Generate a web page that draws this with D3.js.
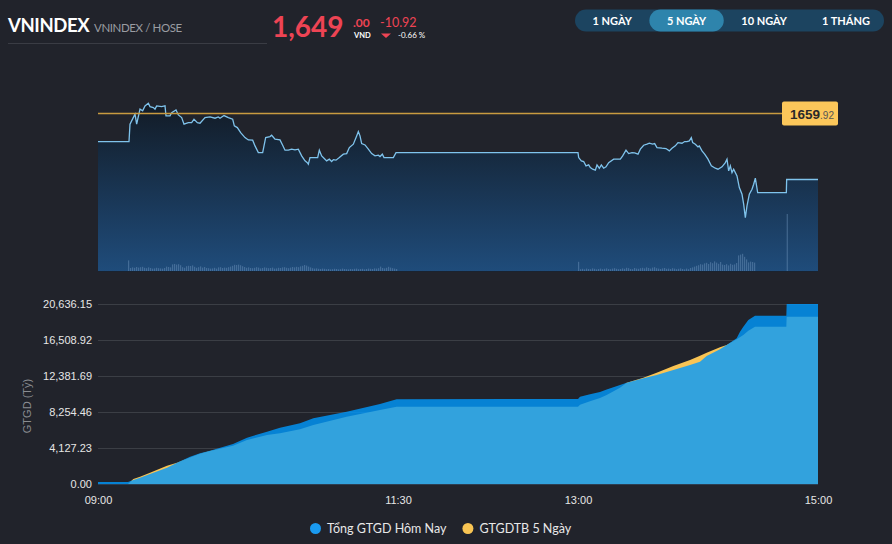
<!DOCTYPE html>
<html>
<head>
<meta charset="utf-8">
<script src="https://cdn.jsdelivr.net/npm/d3@7"></script>
<style>
  body { margin: 0; background: #21232b; overflow: hidden; }
  svg { display: block; }
</style>
</head>
<body>
<script>
// header values
var symbol = "VNINDEX";
var exchange = "VNINDEX / HOSE";
var lastPrice = "1,649";
var lastDecimals = ".00";
var change = "-10.92";
var changePct = "-0.66 %";
var periods = ["1 NGÀY", "5 NGÀY", "10 NGÀY", "1 THÁNG"];
var activePeriod = "5 NGÀY";

// intraday index (time, points)
var refPrice = 1659.92;
var priceData = [
  ["09:00:00",1655.22],["09:15:30",1655.22],["09:16:00",1658.07],["09:18:30",1659.71],["09:19:20",1658.07],
  ["09:21:00",1660.53],["09:22:20",1660.25],["09:23:30",1661.07],["09:25:10",1661.51],["09:26:00",1660.95],
  ["09:27:40",1660.79],["09:28:30",1660.53],["09:29:20",1661.07],["09:31:50",1660.95],["09:33:30",1661.07],
  ["09:34:00",1659.43],["09:36:00",1659.43],["09:36:50",1659.97],["09:39:00",1660.41],["09:40:10",1659.59],
  ["09:41:50",1659.15],["09:43:00",1658.07],["09:45:10",1658.33],["09:46:50",1658.33],["09:48:00",1658.89],
  ["09:49:40",1658.33],["09:51:00",1658.23],["09:53:30",1659.15],["09:56:00",1659.26],["09:58:30",1659.05],
  ["10:00:10",1659.26],["10:01:00",1659.05],["10:03:00",1659.48],["10:05:10",1659.15],["10:07:20",1658.89],
  ["10:08:10",1657.79],["10:09:40",1657.51],["10:11:20",1656.69],["10:13:30",1655.87],["10:15:10",1655.49],
  ["10:17:20",1655.44],["10:18:30",1654.51],["10:20:10",1653.41],["10:22:20",1653.41],["10:23:50",1655.87],
  ["10:26:00",1656.03],["10:26:50",1656.26],["10:28:30",1655.61],["10:31:00",1655.49],["10:32:20",1654.62],
  ["10:33:30",1653.81],["10:35:10",1653.81],["10:36:50",1653.97],["10:38:30",1653.85],["10:40:10",1653.97],
  ["10:41:50",1652.87],["10:43:30",1652.05],["10:44:40",1651.77],["10:45:10",1651.51],["10:46:00",1652.59],
  ["10:49:50",1652.59],["10:50:40",1653.81],["10:51:50",1652.87],["10:53:30",1652.33],["10:54:20",1652.05],
  ["10:55:40",1652.33],["10:56:50",1651.94],["10:57:40",1652.26],["10:59:00",1652.17],["11:00:40",1652.59],
  ["11:02:40",1653.15],["11:04:20",1653.25],["11:05:40",1654.23],["11:07:40",1654.79],["11:09:20",1656.15],
  ["11:10:10",1656.85],["11:11:00",1656.15],["11:11:50",1654.89],["11:13:30",1654.67],["11:15:10",1653.97],
  ["11:16:50",1653.25],["11:18:30",1652.87],["11:20:10",1652.99],["11:21:00",1652.76],["11:22:10",1653.15],
  ["11:23:00",1652.59],["11:27:40",1652.59],["11:29:00",1653.41],["11:30:00",1653.41],["13:00:00",1653.41],
  ["13:00:20",1652.59],["13:01:40",1652.05],["13:02:50",1651.94],["13:04:00",1651.23],["13:05:20",1651.40],
  ["13:06:10",1650.95],["13:07:20",1650.69],["13:08:40",1650.53],["13:09:30",1651.40],["13:10:40",1650.85],
  ["13:11:40",1651.40],["13:12:50",1650.85],["13:14:00",1651.07],["13:15:20",1651.77],["13:17:50",1652.33],
  ["13:21:10",1652.33],["13:22:20",1652.87],["13:24:00",1653.81],["13:25:20",1653.25],["13:27:00",1653.41],
  ["13:28:20",1653.36],["13:30:00",1653.15],["13:31:10",1653.97],["13:32:50",1654.62],["13:34:30",1654.79],
  ["13:35:40",1654.95],["13:37:20",1654.79],["13:38:20",1654.89],["13:39:30",1654.23],["13:42:00",1654.13],
  ["13:44:00",1654.07],["13:45:40",1653.69],["13:47:00",1654.13],["13:48:40",1654.51],["13:50:00",1655.05],
  ["13:52:00",1654.95],["13:53:20",1655.22],["13:54:30",1655.22],["13:55:40",1655.33],["13:56:40",1655.87],
  ["13:57:20",1655.05],["13:58:40",1654.79],["14:00:00",1654.35],["14:00:40",1654.51],["14:02:00",1653.69],
  ["14:03:20",1653.15],["14:05:00",1652.33],["14:06:40",1651.23],["14:08:40",1650.85],["14:10:00",1650.69],
  ["14:12:00",1651.07],["14:13:40",1651.77],["14:14:30",1652.33],["14:15:20",1650.41],["14:16:10",1651.23],
  ["14:17:00",1650.13],["14:17:50",1650.69],["14:19:30",1649.59],["14:20:40",1647.67],["14:22:00",1646.59],
  ["14:22:50",1644.95],["14:23:40",1642.76],["14:24:30",1644.67],["14:25:40",1646.59],["14:27:00",1647.41],
  ["14:27:50",1648.23],["14:28:40",1649.21],["14:29:50",1646.85],["14:44:10",1646.85],["14:44:20",1649.00],
  ["15:00:00",1649.00]
];

// 1-minute volume (mn shares): morning from 09:15, afternoon from 13:00, plus ATC
var volMorningStart = "09:15";
var volMorning = [
  5.3,1.5,1.8,1.6,2.0,1.7,1.9,2.1,1.6,1.4, 1.8,1.5,1.2,1.3,1.6,1.4,1.3,1.2,1.5,2.2,
  2.0,1.8,3.3,3.5,3.2,3.4,2.9,1.9,1.6,2.4, 2.6,2.5,2.8,2.1,1.6,1.9,2.3,1.7,2.0,1.5,
  1.4,1.2,1.3,1.6,1.2,1.8,1.9,1.5,1.7,1.6, 1.9,2.2,2.6,3.1,3.0,3.2,2.9,2.4,2.0,1.6,
  1.8,1.5,1.4,1.6,1.9,1.7,1.3,1.5,1.8,1.6, 1.4,1.5,1.7,1.2,1.3,1.6,1.5,1.8,1.9,1.6,
  1.4,1.7,2.0,1.8,2.1,1.9,2.3,2.6,3.0,2.7, 2.2,1.8,1.4,1.2,1.3,1.1,1.0,1.2,1.1,0.9,
  1.0,0.8,0.9,1.1,1.0,0.8,0.9,1.2,1.0,0.9, 0.8,1.0,0.9,1.1,1.2,0.9,1.0,1.1,0.8,1.0,
  1.2,1.1,1.0,1.3,1.2,1.4,2.2,1.5,1.3,1.6, 2.1,1.7,1.4,1.2,1.0
];
var volAfternoonStart = "13:00";
var volAfternoon = [
  4.6,0.9,1.1,0.8,1.2,1.0,0.9,1.3,1.1,0.8, 1.0,1.2,0.9,1.1,1.3,1.0,0.9,1.2,1.4,1.1,
  0.9,1.0,1.3,1.1,1.6,1.4,1.0,0.9,1.5,1.2, 1.1,1.4,1.6,1.3,1.8,1.5,1.2,1.7,1.9,1.4,
  1.2,1.0,1.3,1.5,1.1,1.2,1.0,1.4,1.2,0.9, 1.1,1.3,1.0,0.8,1.2,0.9,1.5,1.8,2.2,2.6,
  2.9,3.4,3.2,3.8,4.1,3.5,4.4,3.9,4.8,4.2, 3.6,4.5,3.2,3.0,3.4,2.8,3.6,3.1,3.3,4.0,
  7.8,8.2,8.6,7.1,5.8,4.3,4.7,4.5,4.2
];
var volAtc = ["14:44:20", 28.5];

// cumulative traded value (bn VND)
var gtgdToday = [
  ["09:00",229],["09:15",229],["09:17:40",459],["09:21",722],["09:26",1146],["09:34:30",1869],
  ["09:39:30",2442],["09:46",3130],["09:51",3520],["09:56",3818],["10:07:30",4586],["10:14:30",5308],
  ["10:24:30",5996],["10:31",6454],["10:41",6959],["10:47:40",7532],["11:04:20",8289],["11:21",9172],
  ["11:29:20",9710],["11:30",9730],["13:00",9745],["13:01",10000],["13:06",10300],["13:11",10560],
  ["13:14:20",10830],["13:21",11350],["13:24:20",11614],["13:32:40",12118],["13:39:20",12496],
  ["13:47:40",13070],["13:56",13643],["14:01",14021],["14:04:20",14675],["14:11",15443],["14:14:20",15936],
  ["14:19:20",16704],["14:21",17460],["14:22:40",18034],["14:25:10",18802],["14:28:30",19295],
  ["14:44:10",19295],["14:44:20",20636.15],["15:00",20636.15]
];
var gtgdAvg5 = [
  ["09:00",0],["09:15",0],["09:17:40",573],["09:21",837],["09:26",1295],["09:34:30",2098],
  ["09:39:30",2442],["09:46",3050],["09:51",3480],["09:56",3780],["10:07:30",4391],["10:14:30",5044],
  ["10:24:30",5618],["10:31",5813],["10:41",6271],["10:47:40",6764],["11:04:20",7716],["11:21",8484],
  ["11:29:20",8862],["11:30",8862],["13:00",8862],["13:01",9080],["13:06",9480],["13:11",9850],
  ["13:14:20",10203],["13:21",11040],["13:24:20",11600],["13:32:40",12180],["13:39:20",12760],
  ["13:47:40",13528],["13:56",14216],["14:01",14709],["14:04:20",15053],["14:11",15672],["14:14:20",15936],
  ["14:19:20",16589],["14:22:40",17082],["14:25:10",17575],["14:28:30",18034],["14:44:10",18034],
  ["14:44:20",19180],["15:00",19180]
];
var gtgdTicks = [0, 4127.23, 8254.46, 12381.69, 16508.92, 20636.15];
var timeTicks = ["09:00", "11:30", "13:00", "15:00"];
var legendNames = ["Tổng GTGD Hôm Nay", "GTGDTB 5 Ngày"];
var legendColors = ["#1a9af0", "#f8c453"];

var parseT = d3.timeParse("%H:%M:%S");
function tp(s) { return parseT(s.length === 5 ? s + ":00" : s); }

var svg = d3.select("body").append("svg")
    .attr("width", 892)
    .attr("height", 544);

var hdrFont = "Lato, 'Noto Sans', sans-serif";
var axFont = "'Liberation Sans', Arial, sans-serif";

// ---------- header ----------
svg.append("text").attr("x", 8).attr("y", 32)
    .attr("font-family", hdrFont).attr("font-weight", 700).attr("font-size", 18.5)
    .attr("letter-spacing", -0.4)
    .attr("fill", "#ffffff").text(symbol);
svg.append("text").attr("x", 94).attr("y", 32)
    .attr("font-family", hdrFont).attr("font-size", 11.5)
    .attr("letter-spacing", -0.4)
    .attr("fill", "#9a9ca2").text(exchange);
svg.append("line").attr("x1", 8).attr("x2", 267).attr("y1", 43.5).attr("y2", 43.5)
    .attr("stroke", "#3a3c44");

var red = "#ee4454";
svg.append("text").attr("x", 272).attr("y", 37)
    .attr("font-family", hdrFont).attr("font-weight", 700).attr("font-size", 28)
    .attr("fill", red).text(lastPrice);
svg.append("text").attr("x", 353).attr("y", 27)
    .attr("font-family", hdrFont).attr("font-weight", 700).attr("font-size", 12)
    .attr("fill", red).text(lastDecimals);
svg.append("text").attr("x", 354).attr("y", 37.5)
    .attr("font-family", hdrFont).attr("font-weight", 700).attr("font-size", 7.5)
    .attr("fill", "#ffffff").text("VND");
svg.append("text").attr("x", 380).attr("y", 27)
    .attr("font-family", hdrFont).attr("font-size", 12.5)
    .attr("fill", red).text(change);
svg.append("path").attr("d", "M381,33.5 L391,33.5 L386,38 Z").attr("fill", red);
svg.append("text").attr("x", 398).attr("y", 37.5)
    .attr("font-family", hdrFont).attr("font-size", 8)
    .attr("fill", "#ffffff").text(changePct);

// ---------- period switch ----------
var sw = svg.append("g");
var swBg = sw.append("rect").attr("y", 9.5).attr("height", 22).attr("rx", 11).attr("fill", "#1c4460");
var bx = 575;
periods.forEach(function (p) {
  var g = sw.append("g");
  var r = g.append("rect").attr("y", 9.5).attr("height", 22).attr("rx", 11)
      .attr("fill", p === activePeriod ? "#2e84ac" : "none");
  var t = g.append("text").attr("y", 24.5)
      .attr("font-family", hdrFont).attr("font-weight", 700).attr("font-size", 11)
      .attr("fill", "#ffffff").attr("text-anchor", "middle").text(p);
  var w = t.node().getComputedTextLength() + 35;
  r.attr("x", bx).attr("width", w);
  t.attr("x", bx + w / 2);
  bx += w;
});
swBg.attr("x", 575).attr("width", 309);

// ---------- intraday price chart ----------
var x = d3.scaleTime().domain([tp("09:00"), tp("15:00")]).range([98, 818]);
var yP = d3.scaleLinear().domain([1634, 1664]).range([271, 88]);
var yV = d3.scaleLinear().domain([0, 60]).range([271, 151]);

var defs = svg.append("defs");
var grad = defs.append("linearGradient").attr("id", "pgrad")
    .attr("gradientUnits", "userSpaceOnUse")
    .attr("x1", 0).attr("x2", 0).attr("y1", 100).attr("y2", 271);
grad.append("stop").attr("offset", 0).attr("stop-color", "#121a24");
grad.append("stop").attr("offset", 1).attr("stop-color", "#1f4c7b");

var priceArea = d3.area()
    .x(function (d) { return x(tp(d[0])); })
    .y0(yP(1634))
    .y1(function (d) { return yP(d[1]); });
var priceLine = d3.line()
    .x(function (d) { return x(tp(d[0])); })
    .y(function (d) { return yP(d[1]); });

svg.append("path").datum(priceData).attr("d", priceArea).attr("fill", "url(#pgrad)");

var volData = [];
volMorning.forEach(function (v, i) { volData.push([d3.timeMinute.offset(tp(volMorningStart), i), v]); });
volAfternoon.forEach(function (v, i) { volData.push([d3.timeMinute.offset(tp(volAfternoonStart), i), v]); });
volData.push([tp(volAtc[0]), volAtc[1]]);

svg.append("g").selectAll("rect").data(volData).enter().append("rect")
    .attr("x", function (d) { return x(d[0]); })
    .attr("width", 1.2)
    .attr("y", function (d) { return yV(d[1]); })
    .attr("height", function (d) { return yV(0) - yV(d[1]); })
    .attr("fill", "#7096be")
    .attr("opacity", 0.45);

svg.append("line").attr("x1", 98).attr("x2", 818).attr("y1", 271.5).attr("y2", 271.5)
    .attr("stroke", "#1a2330");

svg.append("path").datum(priceData).attr("d", priceLine)
    .attr("fill", "none").attr("stroke", "#7fc3ec").attr("stroke-width", 1.3);

// reference (previous close) line + tag
var yRef = Math.round(yP(refPrice)) + 0.5;
svg.append("line").attr("x1", 98).attr("x2", 783).attr("y1", yRef).attr("y2", yRef)
    .attr("stroke", "#c99b40").attr("stroke-width", 1.5);
svg.append("rect").attr("x", 782).attr("y", yRef - 12).attr("width", 56).attr("height", 24)
    .attr("rx", 2).attr("fill", "#fcc75a");
var refTxt = svg.append("text").attr("x", 790).attr("y", yRef + 5)
    .attr("font-family", axFont).attr("fill", "#2a2a2a");
var refParts = d3.format(".2f")(refPrice).split(".");
refTxt.append("tspan").attr("font-size", 13.5).attr("font-weight", 700).text(refParts[0]);
refTxt.append("tspan").attr("font-size", 10).attr("fill", "#555").text("." + refParts[1]);

// ---------- cumulative value chart ----------
var yG = d3.scaleLinear().domain([0, 20636.15]).range([484, 304]);

var yAxis = svg.append("g").attr("transform", "translate(98,0)")
    .call(d3.axisLeft(yG).tickValues(gtgdTicks).tickSize(-720).tickPadding(6)
      .tickFormat(d3.format(",.2f")));
yAxis.select(".domain").remove();
yAxis.selectAll(".tick line").attr("stroke", "#3b3e45");
yAxis.selectAll(".tick text").attr("fill", "#e6e6e6")
    .attr("font-family", axFont).attr("font-size", 11);

var gArea = d3.area()
    .x(function (d) { return x(tp(d[0])); })
    .y0(yG(0))
    .y1(function (d) { return yG(d[1]); });

svg.append("path").datum(gtgdAvg5).attr("d", gArea).attr("fill", "#f9c454");
svg.append("path").datum(gtgdToday).attr("d", gArea).attr("fill", "#009aff").attr("fill-opacity", 0.8);

svg.append("line").attr("x1", 98).attr("x2", 818).attr("y1", 484.5).attr("y2", 484.5)
    .attr("stroke", "#2c3e52");

var xAxis = svg.append("g").attr("transform", "translate(0,484)")
    .call(d3.axisBottom(x).tickValues(timeTicks.map(tp)).tickSize(0).tickPadding(12)
      .tickFormat(d3.timeFormat("%H:%M")));
xAxis.select(".domain").remove();
xAxis.selectAll(".tick text").attr("fill", "#e6e6e6")
    .attr("font-family", axFont).attr("font-size", 11);

svg.append("text")
    .attr("transform", "translate(31,406) rotate(-90)")
    .attr("text-anchor", "middle")
    .attr("font-family", axFont).attr("font-size", 11)
    .attr("fill", "#8a8c91").text("GTGD (Tỷ)");

// legend
var lg = svg.append("g");
var lx = 310;
legendNames.forEach(function (n, i) {
  lg.append("circle").attr("cx", lx + 5.5).attr("cy", 528.5).attr("r", 5.5).attr("fill", legendColors[i]);
  var t = lg.append("text").attr("x", lx + 17).attr("y", 533)
      .attr("font-family", hdrFont).attr("font-size", 12.5)
      .attr("fill", "#e8e8e8").text(n);
  lx += 17 + t.node().getComputedTextLength() + 16;
});
</script>
</body>
</html>
